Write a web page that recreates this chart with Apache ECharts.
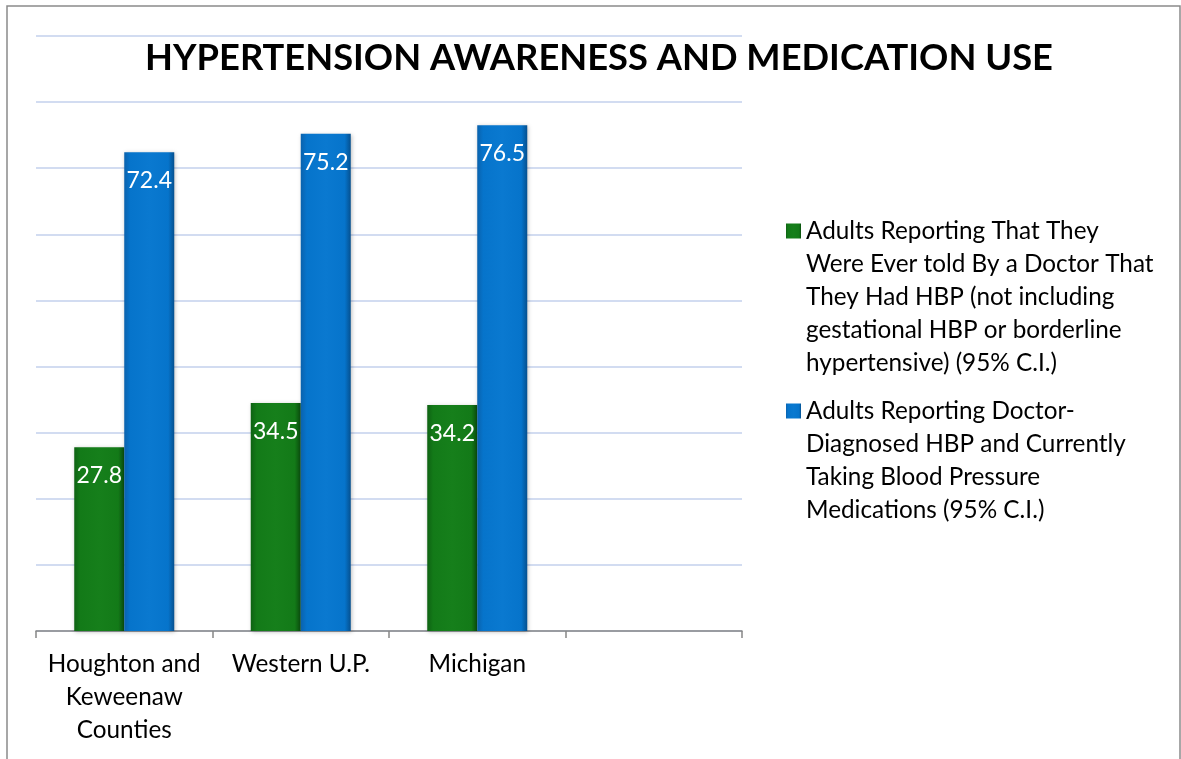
<!DOCTYPE html>
<html>
<head>
<meta charset="utf-8">
<script src="https://cdn.jsdelivr.net/npm/echarts@6/dist/echarts.min.js"></script>
<style>
  html, body { margin: 0; padding: 0; background: #fff; }
  #chart { width: 1181px; height: 759px; }
</style>
</head>
<body>
<div id="chart"></div>
<script>
const categories = ['Houghton and\nKeweenaw\nCounties', 'Western U.P.', 'Michigan', ''];
const everToldValues = [27.8, 34.5, 34.2, null];
const takingMedsValues = [72.4, 75.2, 76.5, null];
const seriesNames = [
  'Adults Reporting That They\nWere Ever told By a Doctor That\nThey Had HBP (not including\ngestational HBP or borderline\nhypertensive) (95% C.I.)',
  'Adults Reporting Doctor-\nDiagnosed HBP and Currently\nTaking Blood Pressure\nMedications (95% C.I.)'
];

const FONT = 'Lato';
const LINE_H = 33;
const TEXT_SIZE = 24.3;

const barGradient = (edge, main, mid, edgeR) => ({
  type: 'linear', x: 0, y: 0, x2: 1, y2: 0,
  colorStops: [
    { offset: 0, color: edge },
    { offset: 0.12, color: main },
    { offset: 0.5, color: mid },
    { offset: 0.88, color: main },
    { offset: 1, color: edgeR }
  ]
});

const green = barGradient('#0e6213', '#137a18', '#167f1b', '#0a4b0d');
const blue = barGradient('#0a62ad', '#0674cb', '#0a79d0', '#05508f');

const labelStyle = {
  show: true,
  position: 'insideTop',
  distance: 17,
  color: '#fff',
  fontFamily: FONT,
  fontSize: 23
};

// icon is centred on the text block, so blank lines on top push the
// first real line level with the icon
const legendFor = (name, iconY) => {
  const lines = name.split('\n').length;
  return {
    left: 786,
    top: iconY - (2 * lines - 1) * LINE_H / 2,
    orient: 'vertical',
    padding: 0,
    itemWidth: 15,
    itemHeight: 15,
    icon: 'rect',
    formatter: n => '\n'.repeat(n.split('\n').length - 1) + n,
    textStyle: {
      fontFamily: FONT,
      fontSize: TEXT_SIZE,
      lineHeight: LINE_H,
      color: '#000'
    },
    data: [name]
  };
};

const chart = echarts.init(document.getElementById('chart'));

chart.setOption({
  backgroundColor: '#fff',
  animation: false,
  title: {
    text: 'HYPERTENSION AWARENESS AND MEDICATION USE',
    left: 594,
    top: 35,
    textAlign: 'center',
    textStyle: {
      fontFamily: FONT,
      fontWeight: 'bold',
      fontSize: 36.3,
      color: '#000'
    }
  },
  legend: [legendFor(seriesNames[0], 231), legendFor(seriesNames[1], 411)],
  graphic: [{
    type: 'rect',
    shape: { x: 7, y: 6, width: 1173, height: 800 },
    style: { fill: 'none', stroke: '#8a8a8a', lineWidth: 1.5 },
    silent: true,
    z: -1
  }],
  grid: {
    left: 36,
    right: 439,
    top: 36,
    bottom: 128
  },
  xAxis: {
    type: 'category',
    data: categories,
    axisLine: { lineStyle: { color: '#868686', width: 1.5 } },
    axisTick: { show: true, length: 7, lineStyle: { color: '#868686', width: 1.5 } },
    axisLabel: {
      color: '#000',
      fontFamily: FONT,
      fontSize: TEXT_SIZE,
      lineHeight: LINE_H,
      margin: 17,
      interval: 0
    }
  },
  yAxis: {
    type: 'value',
    min: 0,
    max: 90,
    interval: 10,
    axisLabel: { show: false },
    axisLine: { show: false },
    axisTick: { show: false },
    splitLine: { lineStyle: { color: '#c3d1ec', width: 1.5 } }
  },
  series: [
    {
      name: seriesNames[0],
      type: 'bar',
      data: everToldValues,
      barWidth: 50,
      barGap: '0%',
      itemStyle: { color: green, shadowColor: 'rgba(0,0,0,0.25)', shadowBlur: 4, shadowOffsetX: 1, shadowOffsetY: 1 },
      label: labelStyle
    },
    {
      name: seriesNames[1],
      type: 'bar',
      data: takingMedsValues,
      barWidth: 50,
      itemStyle: { color: blue, shadowColor: 'rgba(0,0,0,0.25)', shadowBlur: 4, shadowOffsetX: 1, shadowOffsetY: 1 },
      label: labelStyle
    }
  ]
});
</script>
</body>
</html>
